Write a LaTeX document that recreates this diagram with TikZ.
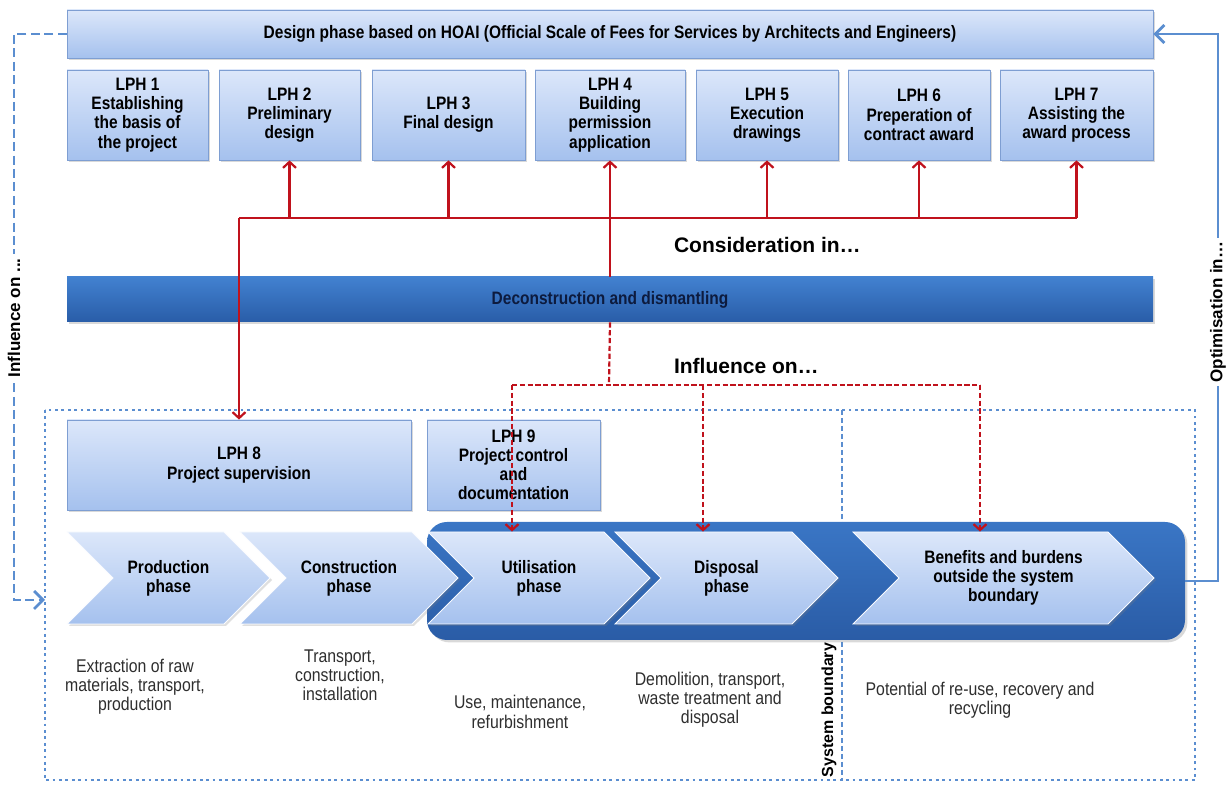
\documentclass[tikz,border=0pt]{standalone}
\usepackage{fontspec}
\setmainfont{Liberation Sans}
\newfontfamily\narrow{Liberation Sans}[FakeStretch=0.86]
\usetikzlibrary{arrows.meta,shadows,shapes.symbols,positioning}

\definecolor{boxtop}{HTML}{DCE7FA}
\definecolor{boxbot}{HTML}{A5C1EE}
\definecolor{boxedge}{HTML}{7E9ED2}
\definecolor{bartop}{HTML}{4281D0}
\definecolor{barbot}{HTML}{295DA8}
\definecolor{rimtop}{HTML}{3A76C5}
\definecolor{rimbot}{HTML}{2A5CA6}
\definecolor{navy}{HTML}{0D1B3E}
\definecolor{linkred}{HTML}{C0121C}
\definecolor{frameblue}{HTML}{5B8ED0}
\definecolor{txtgray}{HTML}{2E2E2E}

\newcommand{\boxfont}{\narrow\bfseries\fontsize{9}{9.6}\selectfont}
\newcommand{\notefont}{\narrow\fontsize{9.2}{9.6}\selectfont}
\newcommand{\headfont}{\bfseries\fontsize{10.5}{12}\selectfont}
\newcommand{\sidefont}{\bfseries\fontsize{8.5}{9}\selectfont}

\tikzset{
  lightbox/.style={draw=boxedge, top color=boxtop, bottom color=boxbot,
    drop shadow={shadow xshift=1.2pt, shadow yshift=-1.2pt, opacity=0.3},
    align=center, font=\boxfont, inner sep=1pt},
  phase/.style={signal, signal to=east, signal from=west, signal pointer angle=90,
    draw=white!85!boxtop, top color=boxtop, bottom color=boxbot,
    drop shadow={shadow xshift=1pt, shadow yshift=-1pt, opacity=0.25},
    minimum height=46pt, inner sep=0pt, align=center, font=\boxfont},
  note/.style={align=center, font=\notefont, text=txtgray},
  redline/.style={linkred, line width=1.1pt},
  reddash/.style={linkred, line width=1.1pt, dash pattern=on 2.6pt off 1.3pt},
  redtip/.style={-{Straight Barb[length=3pt,width=6.5pt]}},
  bluetip/.style={-{Straight Barb[length=4.5pt,width=9pt]}},
  sidelabel/.style={rotate=90, fill=white, inner sep=2pt, font=\sidefont}
}

\begin{document}
\begin{tikzpicture}[x=0.5pt,y=-0.5pt]
\useasboundingbox (0,0) rectangle (1227,785);

% design phases after HOAI
\node[lightbox, minimum width=543pt, minimum height=24pt] (hoai) at (610,34)
  {Design phase based on HOAI (Official Scale of Fees for Services by Architects and Engineers)};
\foreach \n/\x/\w/\txt in {1/137.5/70.5/{LPH 1\\Establishing\\the basis of\\the project},
    2/289.5/70.5/{LPH 2\\Preliminary\\design},
    3/448.5/76.5/{LPH 3\\Final design},
    4/610/75/{LPH 4\\Building\\permission\\application},
    5/767/71/{LPH 5\\Execution\\drawings},
    6/919/71/{LPH 6\\Preperation of\\contract award},
    7/1076.5/76.5/{LPH 7\\Assisting the\\award process}}{
  \node[lightbox, minimum width=\w pt, minimum height=45pt] (lph\n) at (\x,115) {\txt};
}

% deconstruction bar
\node[top color=bartop, bottom color=barbot, minimum width=543pt, minimum height=22.5pt,
  drop shadow={shadow xshift=1.2pt, shadow yshift=-1.2pt, opacity=0.3},
  font=\boxfont, text=navy] (decon) at (610,299.5) {Deconstruction and dismantling};

\node[anchor=west, font=\headfont] (consider) at (667,245) {Consideration in…};
\node[anchor=west, font=\headfont] (influence) at (667,366) {Influence on…};

% life cycle frame and system boundary
\draw[frameblue, line width=1.3pt, dash pattern=on 1.4pt off 1.8pt] (45,410) rectangle (1195,780);
\draw[frameblue, line width=1.3pt, dash pattern=on 2.6pt off 1.4pt] (842,410) -- (842,780);
\node[sidelabel, fill=none, font=\bfseries\fontsize{8}{9}\selectfont] (sysb) at (829,710)
  {System boundary};

\node[lightbox, minimum width=172pt, minimum height=45pt] (lph8) at (239,465)
  {LPH 8\\Project supervision};
\node[lightbox, minimum width=86.5pt, minimum height=45pt] (lph9) at (513.5,465)
  {LPH 9\\Project control\\and\\documentation};

% dark band behind the later phases
\node[rounded corners=10pt, top color=rimtop, bottom color=rimbot,
  drop shadow={shadow xshift=1.2pt, shadow yshift=-1.2pt, opacity=0.3},
  minimum width=379pt, minimum height=59pt] (rim) at (806,581) {};

\node[phase, minimum width=101.5pt] (prod) at (168.5,578) {Production\\phase};
\node[phase, minimum width=109pt] (cons) at (349,578) {Construction\\phase};
\node[phase, minimum width=111pt] (util) at (539,578) {Utilisation\\phase};
\node[phase, minimum width=111.5pt] (disp) at (726.5,578) {Disposal\\phase};
\node[phase, minimum width=150.5pt] (bene) at (1003.5,578)
  {Benefits and burdens\\outside the system\\boundary};

\node[note] (prodtxt) at (135,687) {Extraction of raw\\materials, transport,\\production};
\node[note] (constxt) at (340,675) {Transport,\\construction,\\installation};
\node[note] (usetxt) at (520,712) {Use, maintenance,\\refurbishment};
\node[note] (disptxt) at (710,700) {Demolition, transport,\\waste treatment and\\disposal};
\node[note] (benetxt) at (980,700) {Potential of re-use, recovery and\\recycling};

% consideration of deconstruction in the design
\coordinate (hub) at (609,218);
\draw[redline] (lph8 |- hub) -- (lph7 |- hub);
\draw[redline, redtip] (lph4 |- decon.north) -- (lph4.south);
\foreach \k in {2,3,5,6,7}
  \draw[redline, redtip] (lph\k |- hub) -- (lph\k.south);
\draw[redline, redtip] (lph8 |- hub) -- (lph8.north);

% influence on the life cycle
\coordinate (fork) at (609,385);
\coordinate (f1) at (512,385);
\coordinate (f2) at (703,385);
\coordinate (f3) at (980,385);
\draw[reddash] (lph4 |- decon.south) -- (fork);
\draw[reddash] (f1) -- (f3);
\draw[reddash, redtip] (f1) -- (f1 |- util.north);
\draw[reddash, redtip] (f2) -- (f2 |- disp.north);
\draw[reddash, redtip] (f3) -- (f3 |- bene.north);

% feedback loops
\coordinate (optc) at (1218,34);
\draw[frameblue, line width=1.4pt, bluetip] (rim.east) -| (optc) -- (hoai.east);
\node[sidelabel] (optlbl) at (1218,312) {Optimisation in…};

\coordinate (inflc) at (14,34);
\coordinate (infle) at (45,600);
\draw[frameblue, line width=1.4pt, dash pattern=on 4.5pt off 2.2pt, bluetip]
  (hoai.west) -- (inflc) |- (infle);
\node[sidelabel] (infllbl) at (14,318) {Influence on ...};
\end{tikzpicture}
\end{document}
